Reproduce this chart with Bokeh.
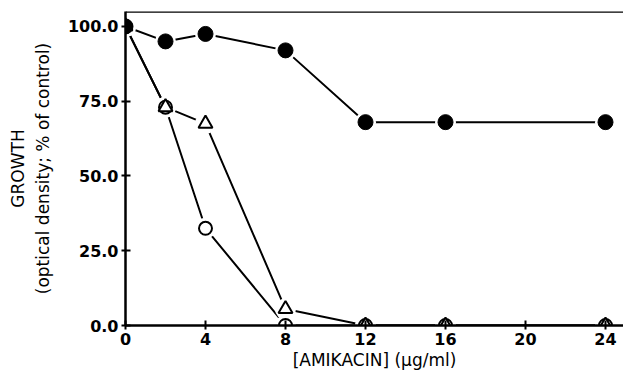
from bokeh.plotting import figure
from bokeh.models import Range1d, FixedTicker, Span, PrintfTickFormatter
from bokeh.embed import file_html
from bokeh.resources import INLINE

conc = [0, 2, 4, 8, 12, 16, 24]
filled_circle = [100, 95, 97.5, 92, 68, 68, 68]
open_triangle = [100, 73, 67.5, 5.5, 0, 0, 0]
open_circle = [100, 73, 32.5, 0, 0, 0, 0]
x_ticks = [0, 4, 8, 12, 16, 20, 24]
y_ticks = [0, 25, 50, 75, 100]

p = figure(width=623, height=373, output_backend="svg", toolbar_location=None,
           x_range=Range1d(0, 24.9), y_range=Range1d(0, 105),
           min_border_left=125, min_border_right=0, min_border_top=11, min_border_bottom=48)
p.grid.visible = False
p.outline_line_color = None
p.background_fill_color = "white"
p.border_fill_color = "white"

font = "DejaVu Sans"
for ax in (p.xaxis[0], p.yaxis[0]):
    ax.axis_line_width = 2.5
    ax.axis_line_color = "black"
    ax.major_tick_line_width = 2
    ax.minor_tick_line_color = None
    ax.major_label_text_font = font
    ax.major_label_text_font_style = "bold"
    ax.major_label_text_color = "black"
    ax.major_label_text_font_size = "16px"
    ax.axis_label_text_font = font
    ax.axis_label_text_font_style = "normal"
    ax.axis_label_text_color = "black"
    ax.axis_label_text_font_size = "17px"

p.xaxis.ticker = FixedTicker(ticks=x_ticks)
p.yaxis.ticker = FixedTicker(ticks=y_ticks)
p.yaxis.formatter = PrintfTickFormatter(format="%.1f")
p.xaxis.major_tick_in = 5
p.xaxis.major_tick_out = 4
p.yaxis.major_tick_in = 5
p.yaxis.major_tick_out = 4
p.yaxis.major_label_standoff = 3
p.xaxis.major_label_standoff = 3
p.xaxis.axis_label = "[AMIKACIN] (\u03bcg/ml)"
p.yaxis.axis_label = "GROWTH\n(optical density; % of control)"
p.yaxis.axis_label_text_line_height = 1.25
p.xaxis.axis_label_standoff = 2
p.yaxis.axis_label_standoff = 12

p.add_layout(Span(location=105, dimension="width", line_color="black", line_width=2.5))

# lines
for ys in (filled_circle, open_triangle, open_circle):
    p.line(conc, ys, line_color="black", line_width=2)

# white halos to create gaps between lines and markers
for ys in (filled_circle, open_triangle, open_circle):
    p.scatter(conc, ys, size=21, marker="circle", fill_color="white", line_color=None)

p.scatter(conc, open_circle, size=13, marker="circle", fill_color="white", line_color="black", line_width=2)
p.scatter(conc, open_triangle, size=14, marker="triangle", fill_color="white", line_color="black", line_width=2)
p.scatter(conc, filled_circle, size=15, marker="circle", fill_color="black", line_color="black")

open("out.html", "w").write(file_html(p, INLINE))
